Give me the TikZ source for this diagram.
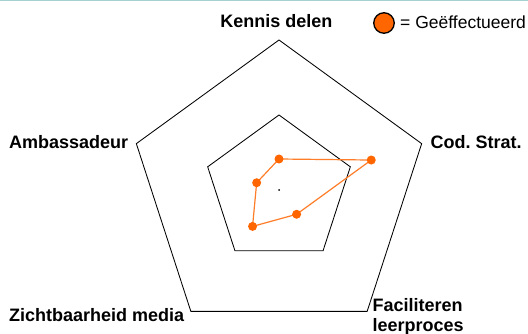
\documentclass[tikz,border=0pt]{standalone}
\usepackage{fontspec}
\setmainfont{Liberation Sans}
\usetikzlibrary{calc}
\frenchspacing
\definecolor{dotorange}{RGB}{255,102,0}
\definecolor{lineorange}{RGB}{255,125,40}
\definecolor{topteal}{RGB}{165,210,208}
\tikzset{
  axislabel/.style={inner sep=0pt, font=\fontsize{18}{20}\selectfont\bfseries},
  legendtext/.style={inner sep=0pt, font=\fontsize{17.5}{20}\selectfont},
  grid/.style={draw=black, line width=0.85pt, line join=miter},
  spider/.style={draw=lineorange, line width=1.2pt, line join=round},
  spot/.style={circle, fill=dotorange, inner sep=0pt, minimum size=9pt},
}
\begin{document}
\begin{tikzpicture}[x=1pt, y=-1pt]
\useasboundingbox (0,0) rectangle (528,334);
\fill[white] (0,0) rectangle (528,334);
\draw[topteal, line width=1.5pt] (0,0.75) -- (528,0.75);
\coordinate (c) at (279,190);
% outer pentagon
\draw[grid] ($(c)+(-90:150)$) -- ($(c)+(-18:150)$) -- ($(c)+(54:150)$) -- ($(c)+(126:150)$) -- ($(c)+(198:150)$) -- cycle;
% inner pentagon
\draw[grid] ($(c)+(-90:75)$) -- ($(c)+(-18:75)$) -- ($(c)+(54:75)$) -- ($(c)+(126:75)$) -- ($(c)+(198:75)$) -- cycle;
% centre dot
\fill[black] (c) circle (1pt);
% data points
\coordinate (pk) at ($(c)+(-90:31)$);
\coordinate (pc) at ($(c)+(-18:97)$);
\coordinate (pf) at ($(c)+(54:30)$);
\coordinate (pz) at ($(c)+(126:45)$);
\coordinate (pa) at ($(c)+(198:23.5)$);
\draw[spider] (pk) -- (pc) -- (pf) -- (pz) -- (pa) -- cycle;
\foreach \p in {pk,pc,pf,pz,pa} \node[spot] at (\p) {};
% labels
\node[axislabel, anchor=base] (kennis) at (276.3,27.5) {Kennis delen};
\node[axislabel, anchor=base west] (amb) at (9,149) {Ambassadeur};
\node[axislabel, anchor=base west] (cod) at (430.5,149) {Cod. Strat.};
\node[axislabel, anchor=base west] (zicht) at (9,321.5) {Zichtbaarheid media};
\node[axislabel, anchor=base west] (fac1) at (372.5,311.5) {Faciliteren};
\node[axislabel, anchor=base west] (fac2) at (372.5,331) {leerproces};
% legend
\node[circle, draw=black, line width=1.3pt, fill=dotorange, inner sep=0pt, minimum size=20.5pt] (legdot) at (384,23) {};
\node[legendtext, anchor=base west] (legtext) at (400,28.5) {= Geëffectueerd};
\end{tikzpicture}
\end{document}
